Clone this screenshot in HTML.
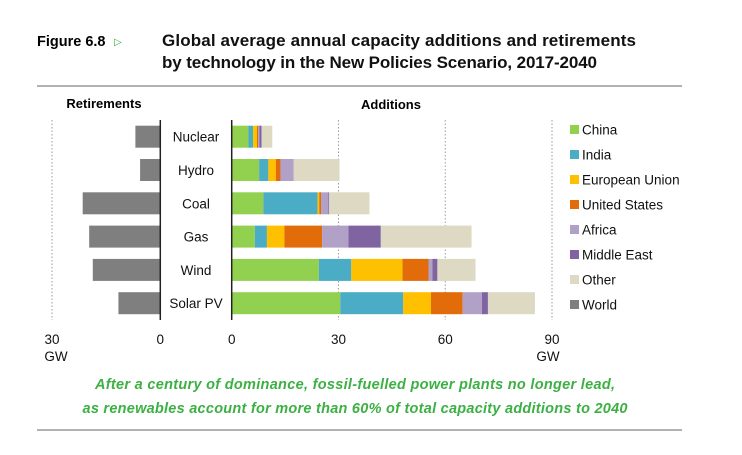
<!DOCTYPE html>
<html><head><meta charset="utf-8"><style>
body{margin:0;width:742px;height:450px;background:#fff;overflow:hidden;font-family:"Liberation Sans",sans-serif}
</style></head><body>
<svg width="742" height="450" xmlns="http://www.w3.org/2000/svg">
<text x="37" y="46" font-size="14.5" font-weight="bold" fill="#000">Figure 6.8</text>
<text x="114" y="45" font-size="10" fill="#3a3">▷</text>
<text x="162" y="46" font-size="17" font-weight="bold" fill="#111" textLength="474">Global average annual capacity additions and retirements</text>
<text x="162" y="68" font-size="17" font-weight="bold" fill="#111" textLength="435">by technology in the New Policies Scenario, 2017-2040</text>
<line x1="37" y1="86" x2="682" y2="86" stroke="#999" stroke-width="1.5"/>
<text x="104" y="108" font-size="13" font-weight="bold" text-anchor="middle">Retirements</text>
<text x="391" y="109" font-size="13" font-weight="bold" text-anchor="middle">Additions</text>
<g id="chart"></g>
<text x="355" y="389" font-size="14.5" font-weight="bold" font-style="italic" fill="#3cb043" text-anchor="middle" textLength="520">After a century of dominance, fossil-fuelled power plants no longer lead,</text>
<text x="355" y="413" font-size="14.5" font-weight="bold" font-style="italic" fill="#3cb043" text-anchor="middle" textLength="545">as renewables account for more than 60% of total capacity additions to 2040</text>
<line x1="37" y1="430" x2="682" y2="430" stroke="#999" stroke-width="1.5"/>
</svg>
<script>
const categories=["Nuclear","Hydro","Coal","Gas","Wind","Solar PV"];
const regions=["China","India","European Union","United States","Africa","Middle East","Other"];
const colors=["#92d050","#4bacc6","#ffc000","#e36c0a","#b2a1c7","#8064a2","#ddd9c3"];
const china=[4.7,7.7,8.9,6.5,24.5,30.5];
const india=[1.3,2.6,15.2,3.4,9.1,17.7];
const eu=[1.1,2.1,0.5,4.9,14.4,7.8];
const us=[0.3,1.3,0.5,10.6,7.3,8.9];
const africa=[0.4,3.6,2.1,7.4,1.1,5.4];
const middleEast=[0.6,0.1,0.2,9.1,1.4,1.7];
const other=[3.0,12.9,11.3,25.5,10.7,13.2];
const retirements=[6.9,5.6,21.5,19.7,18.7,11.6];
const addTicks=[0,30,60,90];
const retTicks=[30,0];
const series=[china,india,eu,us,africa,middleEast,other];
const NS="http://www.w3.org/2000/svg";
const g=document.getElementById("chart");
const xA=v=>231.7+v*(320.3/90);
const xR=v=>160.3-v*(108.3/30);
const yC=i=>136.7+i*33.3;
const BH=22;
function mk(t,a){const e=document.createElementNS(NS,t);for(const k in a)e.setAttribute(k,a[k]);g.appendChild(e);return e;}
[30,60,90].forEach(v=>{const l=mk("line",{x1:xA(v),x2:xA(v),y1:120,y2:320,stroke:"#999","stroke-dasharray":"1.5,2"});

});
{const l=mk("line",{x1:xR(30),x2:xR(30),y1:120,y2:320,stroke:"#999","stroke-dasharray":"1.5,2"});

}
categories.forEach((c,i)=>{
 const r=mk("rect",{x:xR(retirements[i]),y:yC(i)-BH/2,width:xR(0)-xR(retirements[i]),height:BH,fill:"#7f7f7f"});
 
 
 let acc=0;
 series.forEach((s,j)=>{
  const b=mk("rect",{x:xA(acc),y:yC(i)-BH/2,width:xA(acc+s[i])-xA(acc),height:BH,fill:colors[j]});
  
  
  acc+=s[i];
 });
 const t=mk("text",{x:196,y:yC(i)+5,"font-size":13.5,"text-anchor":"middle",fill:"#111"});
 t.textContent=c;
 
 
});
{const l=mk("line",{x1:xR(0),x2:xR(0),y1:120,y2:320,stroke:"#222","stroke-width":1.5});


const l2=mk("line",{x1:xA(0),x2:xA(0),y1:120,y2:320,stroke:"#222","stroke-width":1.5});

}
addTicks.forEach(v=>{const t=mk("text",{x:xA(v),y:344,"font-size":13.5,"text-anchor":"middle",fill:"#111"});t.textContent=v;

});
retTicks.forEach(v=>{const t=mk("text",{x:xR(v),y:344,"font-size":13.5,"text-anchor":"middle",fill:"#111"});t.textContent=v;

});
[[xR(30)+4,"retirements-unit"],[xA(90)-4,"additions-unit"]].forEach(([x,n])=>{const t=mk("text",{x:x,y:361,"font-size":13.5,"text-anchor":"middle",fill:"#111"});t.textContent="GW";

});
const legNames=regions.concat(["World"]);const legCols=colors.concat(["#7f7f7f"]);
legNames.forEach((n,k)=>{const y=130+k*25;
 const s=mk("rect",{x:570,y:y-5,width:9,height:9,fill:legCols[k]});
 
 
 const t=mk("text",{x:582,y:y+4.5,"font-size":13.5,fill:"#111"});t.textContent=n;
 
 });
</script>
</body></html>
